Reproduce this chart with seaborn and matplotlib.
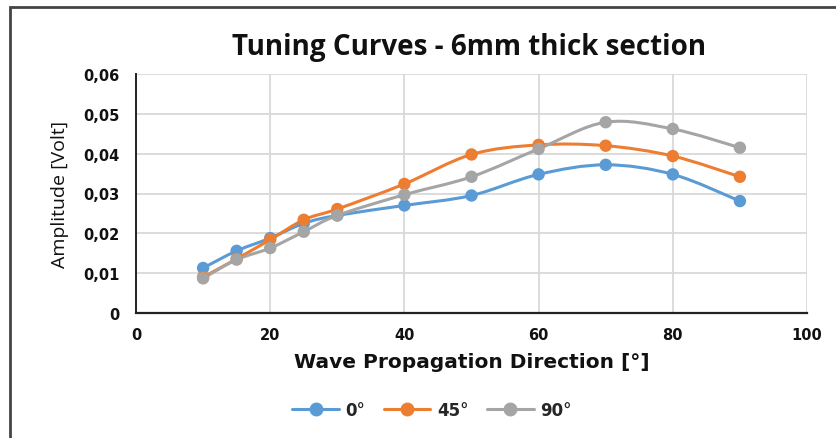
import numpy as np
import pandas as pd
import matplotlib
matplotlib.use("Agg")
import matplotlib.pyplot as plt
from matplotlib.path import Path
from matplotlib.patches import PathPatch, Rectangle
from matplotlib.lines import Line2D
from matplotlib.ticker import FuncFormatter
import seaborn as sns

# Propagation directions (degrees) and measured amplitudes (Volt)
directions = [10, 15, 20, 25, 30, 40, 50, 60, 70, 80, 90]
amp_0 = [0.0113, 0.0156, 0.0188, 0.0225, 0.0245, 0.0270, 0.0295, 0.0348, 0.0372, 0.0348, 0.0281]
amp_45 = [0.0090, 0.0136, 0.0184, 0.0234, 0.0261, 0.0324, 0.0398, 0.0422, 0.0420, 0.0394, 0.0342]
amp_90 = [0.0087, 0.0134, 0.0163, 0.0204, 0.0245, 0.0297, 0.0342, 0.0412, 0.0479, 0.0462, 0.0415]
series_names = ["0°", "45°", "90°"]
series_colors = ["#5b9bd5", "#ed7d31", "#a5a5a5"]

df = pd.DataFrame({
    "direction": directions * 3,
    "amplitude": amp_0 + amp_45 + amp_90,
    "series": sum([[n] * len(directions) for n in series_names], []),
})

sns.set_theme(style="white")
plt.rcParams["font.family"] = ["DejaVu Sans"]

fig = plt.figure(figsize=(8.37, 4.39), dpi=100)
W, H = 837, 439
ax = fig.add_axes([136 / W, 1 - 314 / H, (807 - 136) / W, (314 - 75) / H])

ax.set_xlim(0, 100)
ax.set_ylim(0, 0.06)
ax.set_xticks(np.arange(0, 101, 20))
ax.set_yticks(np.arange(0, 0.0601, 0.01))
ax.yaxis.set_major_formatter(FuncFormatter(
    lambda v, p: "0" if abs(v) < 1e-9 else f"{v:.2f}".replace(".", ",")))
ax.grid(True, color="#d9d9d9", linewidth=1.3)
ax.set_axisbelow(True)
for side in ["top", "right"]:
    ax.spines[side].set_visible(False)
ax.spines["left"].set_color("#222222")
ax.spines["left"].set_linewidth(1.4)
ax.spines["bottom"].set_color("#222222")
ax.spines["bottom"].set_linewidth(1.6)
ax.tick_params(axis="both", length=0, labelsize=10.5, colors="#111111")
ax.tick_params(axis="y", pad=12)
ax.tick_params(axis="x", pad=10)
for lab in ax.get_xticklabels() + ax.get_yticklabels():
    lab.set_fontweight("bold")


def smooth_path(xs, ys):
    """Cubic Bezier path through every point (Catmull-Rom control points)."""
    pts = np.column_stack([xs, ys]).astype(float)
    n = len(pts)
    verts = [pts[0]]
    codes = [Path.MOVETO]
    for i in range(n - 1):
        p0 = pts[i - 1] if i > 0 else pts[i]
        p1, p2 = pts[i], pts[i + 1]
        p3 = pts[i + 2] if i + 2 < n else pts[i + 1]
        c1 = p1 + (p2 - p0) / 6.0
        c2 = p2 - (p3 - p1) / 6.0
        verts += [c1, c2, p2]
        codes += [Path.CURVE4] * 3
    return Path(verts, codes)


for name, color in zip(series_names, series_colors):
    sub = df[df["series"] == name]
    ax.add_patch(PathPatch(smooth_path(sub["direction"], sub["amplitude"]),
                           facecolor="none", edgecolor=color, linewidth=2.2,
                           zorder=3))

sns.scatterplot(data=df, x="direction", y="amplitude", hue="series",
                hue_order=series_names, palette=series_colors, s=80,
                edgecolor="none", legend=False, ax=ax, zorder=4)

ax.set_xlabel("Wave Propagation Direction [°]", fontsize=14.5,
              fontweight="bold", labelpad=7, color="#111111")
ax.set_ylabel("Amplitude [Volt]", fontsize=14, family=["Open Sans"],
              fontweight="medium", labelpad=10, color="#111111")

fig.text(469 / W, 1 - 48 / H, "Tuning Curves - 6mm thick section",
         ha="center", va="center", fontsize=20, fontweight="bold",
         family=["Open Sans"], color="#111111")

handles = [Line2D([0], [0], color=c, lw=2.2, marker="o", markersize=9)
           for c in series_colors]
leg = fig.legend(handles, series_names, loc="center",
                 bbox_to_anchor=(432 / W, 1 - 411 / H), ncol=3, frameon=False,
                 prop={"weight": "bold", "size": 12}, handlelength=2.8,
                 handletextpad=0.4, columnspacing=1.1)

# Outer frame around the chart
fig.patches.append(Rectangle((10 / W, -0.05), 1.0, 1 - 8 / H + 0.05,
                             transform=fig.transFigure, fill=False,
                             edgecolor="#444444", linewidth=2.0))

fig.savefig("out.png", dpi=100)
